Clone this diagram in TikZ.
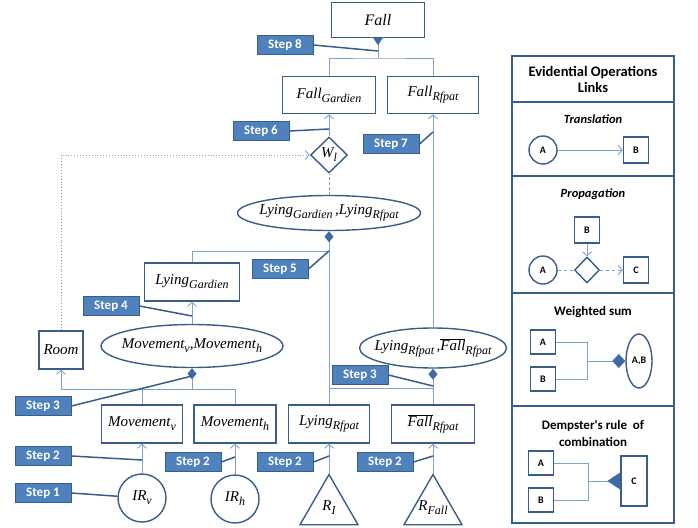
\documentclass[tikz,border=0pt]{standalone}
\usepackage{fontspec}
\setmainfont{Liberation Serif}
\newfontfamily\calibri{Carlito}
\usetikzlibrary{arrows.meta, shapes, positioning}
\definecolor{boxblue}{HTML}{385D8A}
\definecolor{stepblue}{HTML}{4F81BD}
\definecolor{linkblue}{HTML}{7EA3CF}
\definecolor{tipblue}{HTML}{3E6BA6}
\newcommand{\sbs}[1]{\raisebox{-4pt}{\fontsize{12}{12}\selectfont #1}}
\newcommand{\fallbar}{$\overline{\hbox{Fall}}$}
\tikzset{> = { Straight Barb[length = 4pt, width = 9pt] }}

\begin{document}
\begin{tikzpicture}[x = 1pt, y = -1pt,
	var/.style = { draw = boxblue, line width = 1.4pt, fill = white, inner sep = 0pt, minimum height = 38pt, font = \itshape\fontsize{15}{15}\selectfont },
	ev/.style = { var, ellipse },
	src/.style = { var, circle, minimum size = 48pt },
	rsrc/.style = { var, regular polygon, regular polygon sides = 3, minimum size = 67pt },
	stepbox/.style = { draw = boxblue, fill = stepblue, line width = 1pt, text = white, inner sep = 0pt, minimum width = 56pt, minimum height = 19pt, font = \calibri\bfseries\fontsize{13}{13}\selectfont },
	link/.style = { draw = linkblue, line width = 0.9pt },
	pointer/.style = { draw = boxblue, line width = 1.5pt },
	wsum/.style = { arrows = {-Diamond[length = 11pt, width = 9pt, color = tipblue]} },
	panel/.style = { draw = boxblue, line width = 1.4pt, minimum width = 162pt, inner sep = 0pt, outer sep = 0pt },
	lghead/.style = { font = \calibri\bfseries\fontsize{13}{17}\selectfont, align = center },
	lgitem/.style = { draw = boxblue, line width = 1.4pt, inner sep = 0pt, font = \calibri\bfseries\fontsize{10}{10}\selectfont }]
		\useasboundingbox (0,0) rectangle (698,527);

		\node [var, minimum width = 93pt, minimum height = 35pt, font = \itshape\fontsize{16}{16}\selectfont] (fall) at (378,20) {Fall};
		\node [var, minimum width = 93pt, minimum height = 37pt] (fallg) at (329,95) {Fall\sbs{Gardien}};
		\node [var, minimum width = 91pt, minimum height = 37pt] (fallr) at (433,95) {Fall\sbs{Rfpat}};
		\node [var, diamond, minimum width = 37pt, minimum height = 36pt] (wl) at (329,155) {W\sbs{l}};
		\node [ev, minimum width = 183pt, minimum height = 35pt] (lgl) at (329,213) {\makebox[0pt]{Lying\sbs{Gardien}\,,Lying\sbs{Rfpat}}};
		\node [var, minimum width = 95pt] (lyg) at (192,282) {Lying\sbs{Gardien}};
		\node [var, minimum width = 44pt] (room) at (61,350) {Room};
		\node [ev, minimum width = 182pt, minimum height = 43pt] (mov) at (192,346) {\makebox[0pt]{Movement\sbs{v},Movement\sbs{h}}};
		\node [ev, minimum width = 147pt, minimum height = 40pt] (lrf) at (433,348) {\makebox[0pt]{Lying\sbs{Rfpat}\,,\fallbar\sbs{Rfpat}}};

		\node [var, minimum width = 81pt] (movv) at (142,424) {Movement\sbs{v}};
		\node [var, minimum width = 82pt] (movh) at (235,424) {Movement\sbs{h}};
		\node [var, minimum width = 81pt] (lyr) at (329,424) {Lying\sbs{Rfpat}};
		\node [var, minimum width = 83pt] (fbr) at (433,424) {\fallbar\sbs{Rfpat}};

		\node [src] (irv) at (142,498) {IR\sbs{v}};
		\node [src] (irh) at (235,499) {IR\sbs{h}};
		\node [rsrc] (rl) at (329,508) {\makebox[0pt]{R\sbs{I}}};
		\node [rsrc] (rf) at (433,508) {\makebox[0pt]{R\sbs{Fall}}};

		\node [stepbox] (step8) at (285,45) {Step 8};
		\node [stepbox] (step6) at (261,131) {Step 6};
		\node [stepbox] (step7) at (391,144) {Step 7};
		\node [stepbox] (step5) at (280,269) {Step 5};
		\node [stepbox] (step4) at (111,306) {Step 4};
		\node [stepbox] (step3a) at (43,406) {Step 3};
		\node [stepbox] (step3b) at (360,375) {Step 3};
		\node [stepbox] (step2a) at (43,456) {Step 2};
		\node [stepbox] (step2b) at (193,462) {Step 2};
		\node [stepbox] (step2c) at (285,462) {Step 2};
		\node [stepbox] (step2d) at (385,462) {Step 2};
		\node [stepbox] (step1) at (43,493) {Step 1};

		% junctions of the combinations and the points the steps mark
		\coordinate (fallj) at (378,58);
		\coordinate (lgj) at (329,251);
		\coordinate (mvj) at (192,389);
		\coordinate (lrj) at (433,388);
		\coordinate (p8) at (378,51);
		\coordinate (p6) at (329,129);
		\coordinate (p7) at (433,132);
		\coordinate (p4) at (192,316);
		\coordinate (p3a) at (192,376);
		\coordinate (p3b) at (433,386);
		\coordinate (p2a) at (142,460);
		\coordinate (p2b) at (235,457);
		\coordinate (p2c) at (329,456);
		\coordinate (p2d) at (433,456);

		\draw [link] (fallg) |- (fallj) -| (fallr);
		\draw [link, -{Triangle[reversed, length = 7pt, width = 9pt, color = tipblue]}] (fallj) -- (fall);
		\draw [link, ->] (wl) -- (fallg);
		\draw [link, densely dashed] (lgl) -- (wl);
		\draw [link, dotted, ->] (room) |- (wl);

		\draw [link, wsum] (lgj) -- (lgl);
		\draw [link] (lyg) |- (lgj);
		\draw [link] (lyr) -- (lgj);
		\draw [link, wsum] (mvj) -- (mov);
		\draw [link] (movv) |- (mvj);
		\draw [link] (movh) |- (mvj);
		\draw [link, ->] (mvj) -| (room);
		\draw [link, wsum] (lrj) -- (lrf);
		\draw [link] (lyr.north |- lrj) -- (lrj);
		\draw [link] (fbr) -- (lrj);

		\draw [link, ->] (mov) -- (lyg);
		\draw [link, ->] (lrf) -- (fallr);
		\draw [link, ->] (irv) -- (movv);
		\draw [link, ->] (irh) -- (movh);
		\draw [link, ->] (rl) -- (lyr);
		\draw [link, ->] (rf) -- (fbr);

		\draw [pointer] (step8.east) -- (p8);
		\draw [pointer] (step6.east) -- (p6);
		\draw [pointer] (step7.east) -- (p7);
		\draw [pointer] (step5.east) -- (lgj);
		\draw [pointer] (step4.east) -- (p4);
		\draw [pointer] (step3a.east) -- (p3a);
		\draw [pointer] (step3b.east) -- (p3b);
		\draw [pointer] (step2a.east) -- (p2a);
		\draw [pointer] (step2b.east) -- (p2b);
		\draw [pointer] (step2c.east) -- (p2c);
		\draw [pointer] (step2d.east) -- (p2d);
		\draw [pointer] (step1.east) -- (irv);

		% legend
		\node [panel, minimum height = 46pt, lghead, font = \calibri\bfseries\fontsize{14.5}{16}\selectfont] (lgtitle) at (593,79) {Evidential Operations\\Links};
		\node [panel, minimum height = 74pt, below = 0pt of lgtitle] (lgtrans) {};
		\node [panel, minimum height = 117pt, below = 0pt of lgtrans] (lgprop) {};
		\node [panel, minimum height = 113pt, below = 0pt of lgprop] (lgwsum) {};
		\node [panel, minimum height = 117pt, below = 0pt of lgwsum] (lgdemp) {};

		\node [lghead, font = \calibri\bfseries\itshape\fontsize{12.5}{14}\selectfont] (hdtrans) at (593,119) {Translation};
		\node [lghead, font = \calibri\bfseries\itshape\fontsize{12.5}{14}\selectfont] (hdprop) at (593,194) {Propagation};
		\node [lghead] (hdwsum) at (593,312) {Weighted sum};
		\node [lghead] (hddemp) at (593,433) {Dempster's rule\ \ of\\combination};

		\node [lgitem, circle, minimum size = 28pt] (ta) at (543,150) {A};
		\node [lgitem, minimum width = 25pt, minimum height = 26pt] (tb) at (636,150) {B};
		\node [lgitem, minimum width = 25pt, minimum height = 26pt] (pb) at (587,230) {B};
		\node [lgitem, diamond, minimum width = 25pt, minimum height = 26pt] (pd) at (587,270) {};
		\node [lgitem, circle, minimum size = 28pt] (pa) at (543,270) {A};
		\node [lgitem, minimum width = 25pt, minimum height = 26pt] (pc) at (636,270) {C};
		\node [lgitem, minimum width = 25pt, minimum height = 24pt] (wa) at (543,342) {A};
		\node [lgitem, minimum width = 25pt, minimum height = 24pt] (wb) at (543,379) {B};
		\node [lgitem, ellipse, minimum width = 26pt, minimum height = 54pt] (wab) at (639,361) {\makebox[0pt]{A,B}};
		\node [lgitem, minimum width = 25pt, minimum height = 24pt] (da) at (541,463) {A};
		\node [lgitem, minimum width = 25pt, minimum height = 24pt] (db) at (541,500) {B};
		\node [lgitem, minimum width = 26pt, minimum height = 50pt] (dc) at (634,481) {C};
		\coordinate (wj) at (587,361);
		\coordinate (dj) at (588,481);

		\draw [link, ->] (ta) -- (tb);
		\draw [link, dashed] (pa) -- (pd);
		\draw [link, dashed, ->] (pd) -- (pc);
		\draw [link, ->] (pb) -- (pd);
		\draw [link] (wa) -| (wj);
		\draw [link] (wb) -| (wj);
		\draw [link, -{Diamond[length = 13pt, width = 14pt, color = tipblue]}] (wj) -- (wab);
		\draw [link] (da) -| (dj);
		\draw [link] (db) -| (dj);
		\draw [link, -{Triangle[reversed, length = 13pt, width = 17pt, color = tipblue]}] (dj) -- (dc);
	\end{tikzpicture}
\end{document}
